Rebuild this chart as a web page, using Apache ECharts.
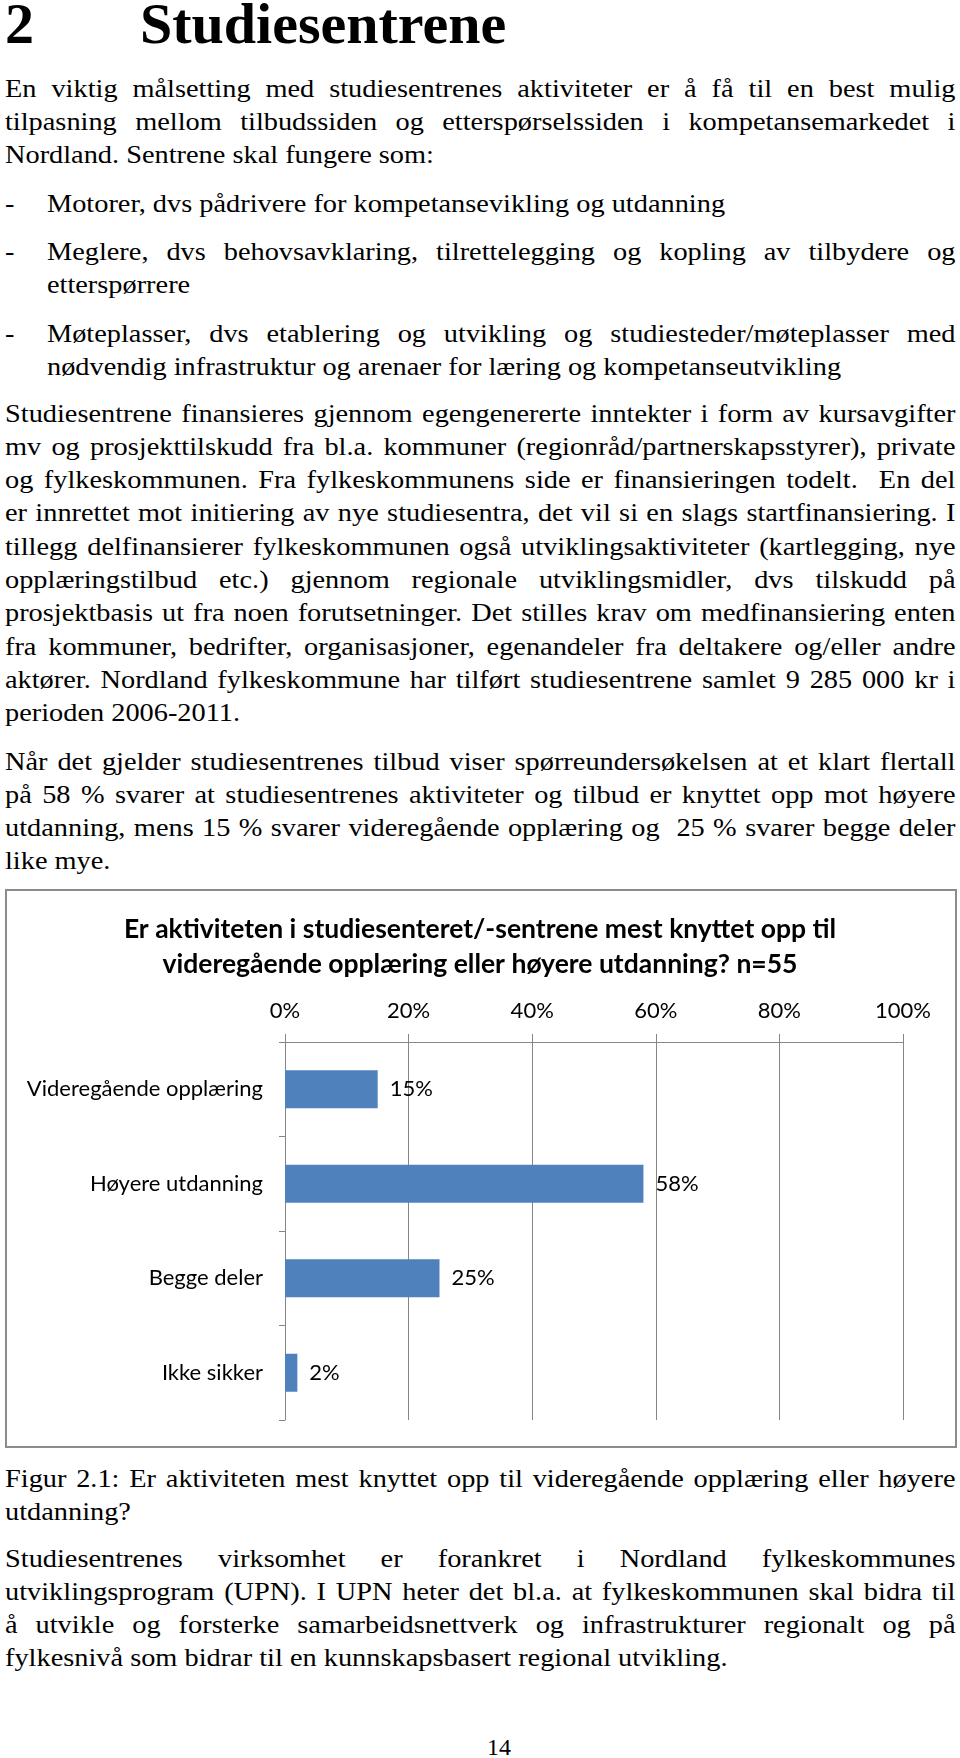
<!DOCTYPE html>
<html>
<head>
<meta charset="utf-8">
<script src="https://cdn.jsdelivr.net/npm/echarts@6/dist/echarts.min.js"></script>
<style>
  html, body { margin: 0; padding: 0; background: #fff; }
  body { width: 960px; height: 1758px; position: relative; overflow: hidden;
         font-family: 'Liberation Serif', 'DejaVu Serif', serif; color: #000; }
  /* tekstblokker: 26px, litt strukket i bredden som i originalen */
  .blk { position: absolute; left: 5px; width: 872px; font-size: 26px; line-height: 33.3px;
         transform: scaleX(1.09); transform-origin: 0 0; }
  .blk div { white-space: nowrap; }
  .j { text-align: justify; text-align-last: justify; }
  .bul { padding-left: 38.5px; width: 833.5px; }
  .bul .dash { position: absolute; left: 0; top: 0; }
  h1 { position: absolute; left: 5px; top: -5px; margin: 0; font-size: 58px; line-height: 57px; font-weight: bold; }
  h1 span { position: absolute; left: 135px; }
  #chart { position: absolute; left: 0; top: 880px; width: 960px; height: 580px; }
  #pg { position: absolute; left: 0; width: 998px; text-align: center; top: 1731px; font-size: 24px; line-height: 33.3px; }
</style>
</head>
<body>
<h1>2<span>Studiesentrene</span></h1>

<div class="blk" style="top:71.6px">
  <div class="j">En viktig målsetting med studiesentrenes aktiviteter er å få til en best mulig</div>
  <div class="j">tilpasning mellom tilbudssiden og etterspørselssiden i kompetansemarkedet i</div>
  <div>Nordland. Sentrene skal fungere som:</div>
</div>

<div class="blk bul" style="top:186.6px">
  <span class="dash">-</span>
  <div>Motorer, dvs pådrivere for kompetansevikling og utdanning</div>
</div>

<div class="blk bul" style="top:234.6px">
  <span class="dash">-</span>
  <div class="j">Meglere, dvs behovsavklaring, tilrettelegging og kopling av tilbydere og</div>
  <div>etterspørrere</div>
</div>

<div class="blk bul" style="top:316.6px">
  <span class="dash">-</span>
  <div class="j">Møteplasser, dvs etablering og utvikling og studiesteder/møteplasser med</div>
  <div>nødvendig infrastruktur og arenaer for læring og kompetanseutvikling</div>
</div>

<div class="blk" style="top:396.6px">
  <div class="j">Studiesentrene finansieres gjennom egengenererte inntekter i form av kursavgifter</div>
  <div class="j">mv og prosjekttilskudd fra bl.a. kommuner (regionråd/partnerskapsstyrer), private</div>
  <div class="j">og fylkeskommunen. Fra fylkeskommunens side er finansieringen todelt.&nbsp; En del</div>
  <div class="j">er innrettet mot initiering av nye studiesentra, det vil si en slags startfinansiering. I</div>
  <div class="j">tillegg delfinansierer fylkeskommunen også utviklingsaktiviteter (kartlegging, nye</div>
  <div class="j">opplæringstilbud etc.) gjennom regionale utviklingsmidler, dvs tilskudd på</div>
  <div class="j">prosjektbasis ut fra noen forutsetninger. Det stilles krav om medfinansiering enten</div>
  <div class="j">fra kommuner, bedrifter, organisasjoner, egenandeler fra deltakere og/eller andre</div>
  <div class="j">aktører. Nordland fylkeskommune har tilført studiesentrene samlet 9 285 000 kr i</div>
  <div>perioden 2006-2011.</div>
</div>

<div class="blk" style="top:744.6px">
  <div class="j">Når det gjelder studiesentrenes tilbud viser spørreundersøkelsen at et klart flertall</div>
  <div class="j">på 58 % svarer at studiesentrenes aktiviteter og tilbud er knyttet opp mot høyere</div>
  <div class="j">utdanning, mens 15 % svarer videregående opplæring og&nbsp; 25 % svarer begge deler</div>
  <div>like mye.</div>
</div>

<div id="chart"></div>

<div class="blk" style="top:1461.6px">
  <div class="j">Figur 2.1: Er aktiviteten mest knyttet opp til videregående opplæring eller høyere</div>
  <div>utdanning?</div>
</div>

<div class="blk" style="top:1541.6px">
  <div class="j">Studiesentrenes virksomhet er forankret i Nordland fylkeskommunes</div>
  <div class="j">utviklingsprogram (UPN). I UPN heter det bl.a. at fylkeskommunen skal bidra til</div>
  <div class="j">å utvikle og forsterke samarbeidsnettverk og infrastrukturer regionalt og på</div>
  <div>fylkesnivå som bidrar til en kunnskapsbasert regional utvikling.</div>
</div>

<div id="pg">14</div>

<script>
// svarfordeling, n=55
const categories = ['Videregående opplæring', 'Høyere utdanning', 'Begge deler', 'Ikke sikker'];
const shares = [15, 58, 25, 2];

const chartTitle = 'Er aktiviteten i studiesenteret/-sentrene mest knyttet opp til\nvideregående opplæring eller høyere utdanning? n=55';
const labelFont = 'Lato, "Open Sans", sans-serif';
const gray = '#868686';

const chart = echarts.init(document.getElementById('chart'), null, { renderer: 'canvas' });

const option = {
  animation: false,
  title: {
    text: chartTitle,
    left: 'center',
    top: 27,
    textStyle: {
      fontFamily: labelFont,
      fontWeight: 'bold',
      fontSize: 26.5,
      lineHeight: 35,
      color: '#000'
    }
  },
  graphic: [{
    type: 'rect',
    shape: { x: 6, y: 10, width: 950, height: 557 },
    style: { fill: 'none', stroke: '#8c8c8c', lineWidth: 2 }
  }],
  grid: { left: 285, right: 57, top: 162, bottom: 40 },
  xAxis: {
    type: 'value',
    position: 'top',
    min: 0,
    max: 100,
    interval: 20,
    axisLine: { show: true, lineStyle: { color: gray } },
    axisTick: { show: true, length: 8, lineStyle: { color: gray } },
    splitLine: { show: true, lineStyle: { color: gray } },
    axisLabel: { formatter: '{value}%', fontFamily: labelFont, fontSize: 22, color: '#000', margin: 20 }
  },
  yAxis: {
    type: 'category',
    inverse: true,
    data: categories,
    axisLine: { show: true, lineStyle: { color: gray } },
    axisTick: { show: true, length: 6, lineStyle: { color: gray } },
    axisLabel: { fontFamily: labelFont, fontSize: 22, color: '#000', margin: 22 }
  },
  series: [{
    type: 'bar',
    data: shares,
    barWidth: 38,
    itemStyle: { color: '#4F81BD' },
    label: {
      show: true,
      position: 'right',
      distance: 12,
      formatter: '{c}%',
      fontFamily: labelFont,
      fontSize: 22,
      color: '#000'
    }
  }]
};

chart.setOption(option);
</script>
</body>
</html>
